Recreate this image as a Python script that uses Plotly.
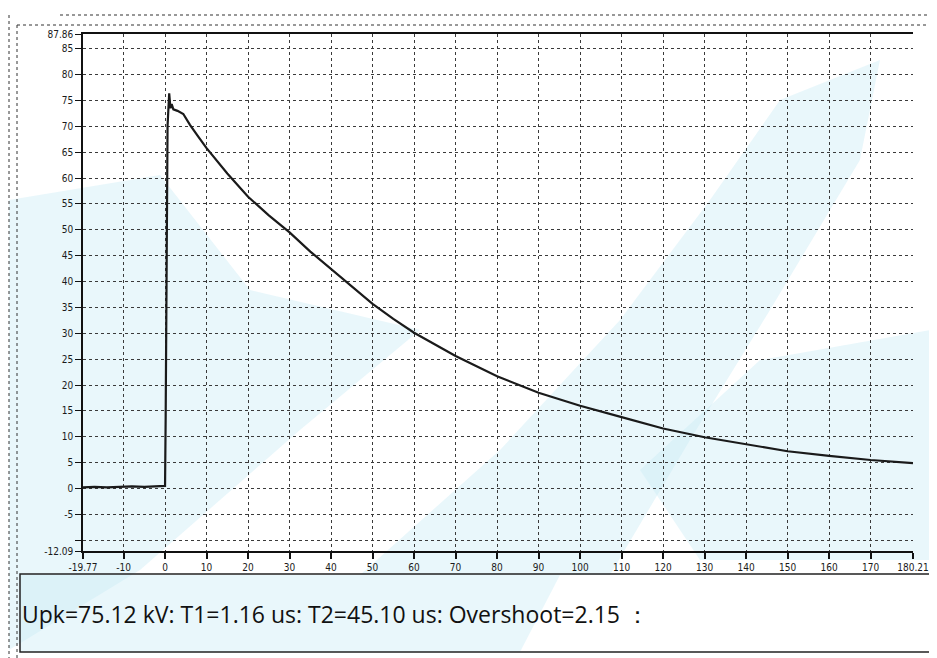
import plotly.graph_objects as go

# Impulse waveform (time in us, voltage in kV)
time_us = [-19.77, -17, -14, -11, -8, -5, -2, -0.1, 0.0, 0.15, 0.3, 0.45, 0.6, 0.75,
           1.0, 1.3, 1.6, 2.0, 3.0, 4.4, 6, 8, 10, 15, 20, 25, 30, 35, 40, 45, 50,
           55, 60, 70, 80, 90, 100, 110, 120, 130, 140, 150, 160, 170, 180.21]
volt_kv = [0.2, 0.3, 0.2, 0.3, 0.4, 0.3, 0.4, 0.4, 0.5, 14, 35, 55, 70, 72.5,
           76.4, 73.5, 74.3, 73.3, 73.0, 72.4, 70.3, 68.0, 65.8, 60.9, 56.4, 52.8, 49.5, 45.8, 42.4, 39.0, 35.7,
           32.8, 30.1, 25.6, 21.7, 18.5, 16.0, 13.8, 11.6, 9.9, 8.5, 7.2, 6.3, 5.5, 4.9]

x_ticks = [-19.77, -10, 0, 10, 20, 30, 40, 50, 60, 70, 80, 90, 100, 110, 120, 130, 140, 150, 160, 170, 180.21]
x_labels = ["-19.77", "-10", "0", "10", "20", "30", "40", "50", "60", "70", "80", "90", "100",
            "110", "120", "130", "140", "150", "160", "170", "180.21"]
y_ticks = [-12.09, -10, -5, 0, 5, 10, 15, 20, 25, 30, 35, 40, 45, 50, 55, 60, 65, 70, 75, 80, 85, 87.86]
y_labels = ["-12.09", "", "-5", "0", "5", "10", "15", "20", "25", "30", "35", "40", "45", "50", "55",
            "60", "65", "70", "75", "80", "85", "87.86"]

summary_text = "Upk=75.12 kV: T1=1.16 us: T2=45.10 us: Overshoot=2.15 ："

W, H = 937, 658
O = 8  # page body margin offset
L, R, T, B = 83, 913, 34, 551  # plot area in window pixels

fig = go.Figure()
fig.add_trace(go.Scatter(x=time_us, y=volt_kv, mode="lines",
                         line=dict(color="#1a1a1a", width=2.2), hoverinfo="skip"))

tickfont = dict(family="DejaVu Sans Condensed", size=10, color="#1a1a1a")
fig.update_layout(
    width=W, height=H,
    margin=dict(l=L - O, r=W + O - R, t=T - O, b=H + O - B),
    paper_bgcolor="white", plot_bgcolor="white",
    showlegend=False,
    xaxis=dict(range=[-19.77, 180.21], tickmode="array", tickvals=x_ticks, ticktext=x_labels,
               showgrid=True, gridcolor="#3a3a3a", griddash="dot", gridwidth=1,
               showline=True, linecolor="#111", linewidth=1.5, mirror=True,
               ticks="outside", ticklen=6, tickcolor="#111", tickwidth=1.5,
               tickfont=tickfont, zeroline=False),
    yaxis=dict(range=[-12.09, 87.86], tickmode="array", tickvals=y_ticks, ticktext=y_labels,
               showgrid=True, gridcolor="#3a3a3a", griddash="dot", gridwidth=1,
               showline=True, linecolor="#111", linewidth=1.5, mirror=False,
               ticks="outside", ticklen=6, tickcolor="#111", tickwidth=1,
               tickfont=tickfont, zeroline=False),
)

def px(xp):
    return (xp - L) / (R - L)

def py(yp):
    return (B - yp) / (B - T)

def poly(points):
    return "M " + " L ".join(f"{px(a):.4f},{py(b):.4f}" for a, b in points) + " Z"

shapes = []
# faint watermark tint of the scan
tint = "rgba(200,236,246,0.4)"
for pts in [
    [(9, 200), (160, 175), (250, 290), (420, 330), (300, 430), (140, 570), (9, 650)],
    [(360, 575), (500, 450), (620, 320), (710, 200), (780, 100), (880, 60), (860, 160),
     (770, 310), (690, 440), (610, 575)],
    [(20, 575), (560, 575), (520, 652), (20, 652)],
    [(640, 470), (760, 360), (930, 330), (930, 560), (700, 560)],
]:
    shapes.append(dict(type="path", xref="paper", yref="paper", path=poly(pts),
                       fillcolor=tint, line=dict(width=0), layer="below"))
# summary box
shapes.append(dict(type="rect", xref="paper", yref="paper",
                   x0=px(20), x1=px(933), y0=py(652), y1=py(574),
                   line=dict(color="#222", width=1.5), fillcolor="rgba(0,0,0,0)"))
# outer dotted frame lines (scanned page)
dotted = dict(color="#333", width=1, dash="dot")
shapes.append(dict(type="line", xref="paper", yref="paper",
                   x0=px(17), x1=px(937), y0=py(25), y1=py(25), line=dotted))
shapes.append(dict(type="line", xref="paper", yref="paper",
                   x0=px(17), x1=px(17), y0=py(25), y1=py(658), line=dotted))
shapes.append(dict(type="line", xref="paper", yref="paper",
                   x0=px(930), x1=px(930), y0=py(25), y1=py(574), line=dotted))
shapes.append(dict(type="line", xref="paper", yref="paper",
                   x0=px(60), x1=px(937), y0=py(15), y1=py(15),
                   line=dict(color="#333", width=1.2, dash="dot")))
shapes.append(dict(type="line", xref="paper", yref="paper",
                   x0=px(9), x1=px(9), y0=py(15), y1=py(658), line=dotted))
fig.update_layout(shapes=shapes)

fig.add_annotation(xref="paper", yref="paper", x=px(20), y=py(614),
                   xanchor="left", yanchor="middle", showarrow=False,
                   text=summary_text,
                   font=dict(family="Open Sans", size=23, color="#111"))

fig.write_html("out.html")
